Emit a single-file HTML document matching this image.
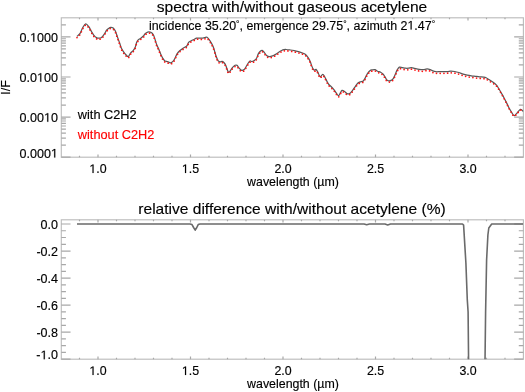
<!DOCTYPE html><html><head><meta charset="utf-8"><style>html,body{margin:0;padding:0;background:#fff;width:525px;height:392px;overflow:hidden}svg{display:block}text{font-family:"Liberation Sans",sans-serif;fill:#000}.tx text{stroke:#000;stroke-width:0.15px}.h1{fill-opacity:0;stroke-opacity:0}</style></head><body>
<svg width="525" height="392" viewBox="0 0 525 392">
<rect x="61.3" y="17.8" width="462.09999999999997" height="139.39999999999998" fill="none" stroke="#bdbdbd" stroke-width="1.15"/>
<path d="M79.50 157.2v-1.39M79.50 17.8v1.39M98.00 157.2v-2.79M98.00 17.8v2.79M116.50 157.2v-1.39M116.50 17.8v1.39M135.00 157.2v-1.39M135.00 17.8v1.39M153.50 157.2v-1.39M153.50 17.8v1.39M172.00 157.2v-1.39M172.00 17.8v1.39M190.50 157.2v-2.79M190.50 17.8v2.79M209.00 157.2v-1.39M209.00 17.8v1.39M227.50 157.2v-1.39M227.50 17.8v1.39M246.00 157.2v-1.39M246.00 17.8v1.39M264.50 157.2v-1.39M264.50 17.8v1.39M283.00 157.2v-2.79M283.00 17.8v2.79M301.50 157.2v-1.39M301.50 17.8v1.39M320.00 157.2v-1.39M320.00 17.8v1.39M338.50 157.2v-1.39M338.50 17.8v1.39M357.00 157.2v-1.39M357.00 17.8v1.39M375.50 157.2v-2.79M375.50 17.8v2.79M394.00 157.2v-1.39M394.00 17.8v1.39M412.50 157.2v-1.39M412.50 17.8v1.39M431.00 157.2v-1.39M431.00 17.8v1.39M449.50 157.2v-1.39M449.50 17.8v1.39M468.00 157.2v-2.79M468.00 17.8v2.79M486.50 157.2v-1.39M486.50 17.8v1.39M505.00 157.2v-1.39M505.00 17.8v1.39" stroke="#a8a8a8" stroke-width="1.2" fill="none"/>
<path d="M61.3 157.20h9.24M523.4 157.20h-9.24M61.3 117.10h9.24M523.4 117.10h-9.24M61.3 77.00h9.24M523.4 77.00h-9.24M61.3 36.90h9.24M523.4 36.90h-9.24M61.3 145.13h4.62M523.4 145.13h-4.62M61.3 138.07h4.62M523.4 138.07h-4.62M61.3 133.06h4.62M523.4 133.06h-4.62M61.3 129.17h4.62M523.4 129.17h-4.62M61.3 126.00h4.62M523.4 126.00h-4.62M61.3 123.31h4.62M523.4 123.31h-4.62M61.3 120.99h4.62M523.4 120.99h-4.62M61.3 118.93h4.62M523.4 118.93h-4.62M61.3 105.03h4.62M523.4 105.03h-4.62M61.3 97.97h4.62M523.4 97.97h-4.62M61.3 92.96h4.62M523.4 92.96h-4.62M61.3 89.07h4.62M523.4 89.07h-4.62M61.3 85.90h4.62M523.4 85.90h-4.62M61.3 83.21h4.62M523.4 83.21h-4.62M61.3 80.89h4.62M523.4 80.89h-4.62M61.3 78.83h4.62M523.4 78.83h-4.62M61.3 64.93h4.62M523.4 64.93h-4.62M61.3 57.87h4.62M523.4 57.87h-4.62M61.3 52.86h4.62M523.4 52.86h-4.62M61.3 48.97h4.62M523.4 48.97h-4.62M61.3 45.80h4.62M523.4 45.80h-4.62M61.3 43.11h4.62M523.4 43.11h-4.62M61.3 40.79h4.62M523.4 40.79h-4.62M61.3 38.73h4.62M523.4 38.73h-4.62M61.3 24.83h4.62M523.4 24.83h-4.62" stroke="#a8a8a8" stroke-width="1.2" fill="none"/>
<rect x="61.3" y="219.8" width="462.09999999999997" height="139.39999999999998" fill="none" stroke="#bdbdbd" stroke-width="1.15"/>
<path d="M79.50 359.2v-1.39M79.50 219.8v1.39M98.00 359.2v-2.79M98.00 219.8v2.79M116.50 359.2v-1.39M116.50 219.8v1.39M135.00 359.2v-1.39M135.00 219.8v1.39M153.50 359.2v-1.39M153.50 219.8v1.39M172.00 359.2v-1.39M172.00 219.8v1.39M190.50 359.2v-2.79M190.50 219.8v2.79M209.00 359.2v-1.39M209.00 219.8v1.39M227.50 359.2v-1.39M227.50 219.8v1.39M246.00 359.2v-1.39M246.00 219.8v1.39M264.50 359.2v-1.39M264.50 219.8v1.39M283.00 359.2v-2.79M283.00 219.8v2.79M301.50 359.2v-1.39M301.50 219.8v1.39M320.00 359.2v-1.39M320.00 219.8v1.39M338.50 359.2v-1.39M338.50 219.8v1.39M357.00 359.2v-1.39M357.00 219.8v1.39M375.50 359.2v-2.79M375.50 219.8v2.79M394.00 359.2v-1.39M394.00 219.8v1.39M412.50 359.2v-1.39M412.50 219.8v1.39M431.00 359.2v-1.39M431.00 219.8v1.39M449.50 359.2v-1.39M449.50 219.8v1.39M468.00 359.2v-2.79M468.00 219.8v2.79M486.50 359.2v-1.39M486.50 219.8v1.39M505.00 359.2v-1.39M505.00 219.8v1.39" stroke="#a8a8a8" stroke-width="1.2" fill="none"/>
<path d="M61.3 224.00h9.24M523.4 224.00h-9.24M61.3 251.04h9.24M523.4 251.04h-9.24M61.3 278.08h9.24M523.4 278.08h-9.24M61.3 305.12h9.24M523.4 305.12h-9.24M61.3 332.16h9.24M523.4 332.16h-9.24M61.3 359.20h9.24M523.4 359.20h-9.24M61.3 230.76h4.62M523.4 230.76h-4.62M61.3 237.52h4.62M523.4 237.52h-4.62M61.3 244.28h4.62M523.4 244.28h-4.62M61.3 257.80h4.62M523.4 257.80h-4.62M61.3 264.56h4.62M523.4 264.56h-4.62M61.3 271.32h4.62M523.4 271.32h-4.62M61.3 284.84h4.62M523.4 284.84h-4.62M61.3 291.60h4.62M523.4 291.60h-4.62M61.3 298.36h4.62M523.4 298.36h-4.62M61.3 311.88h4.62M523.4 311.88h-4.62M61.3 318.64h4.62M523.4 318.64h-4.62M61.3 325.40h4.62M523.4 325.40h-4.62M61.3 338.92h4.62M523.4 338.92h-4.62M61.3 345.68h4.62M523.4 345.68h-4.62M61.3 352.44h4.62M523.4 352.44h-4.62" stroke="#a8a8a8" stroke-width="1.2" fill="none"/>
<defs><clipPath id="c1"><rect x="61.3" y="17.8" width="462.09999999999997" height="139.39999999999998"/></clipPath><clipPath id="c2"><rect x="61.3" y="219.8" width="462.09999999999997" height="139.39999999999998"/></clipPath></defs>
<g clip-path="url(#c1)"><path d="M77.00 36.40C77.52 35.88 79.15 34.75 80.10 33.30C81.05 31.85 81.77 29.27 82.70 27.70C83.63 26.13 84.68 24.07 85.70 23.90C86.72 23.73 87.87 25.47 88.80 26.70C89.73 27.93 90.45 29.87 91.30 31.30C92.15 32.73 92.97 34.20 93.90 35.30C94.83 36.40 96.05 37.42 96.90 37.90C97.75 38.38 98.23 38.28 99.00 38.20C99.77 38.12 100.65 38.05 101.50 37.40C102.35 36.75 103.25 35.50 104.10 34.30C104.95 33.10 105.87 31.17 106.60 30.20C107.33 29.23 107.83 28.98 108.50 28.50C109.17 28.02 109.82 27.38 110.60 27.30C111.38 27.22 112.43 27.43 113.20 28.00C113.97 28.57 114.62 29.57 115.20 30.70C115.78 31.83 116.18 33.35 116.70 34.80C117.22 36.25 117.78 37.95 118.30 39.40C118.82 40.85 119.30 42.05 119.80 43.50C120.30 44.95 120.70 46.75 121.30 48.10C121.90 49.45 122.63 50.50 123.40 51.60C124.17 52.70 125.08 53.85 125.90 54.70C126.72 55.55 127.53 56.95 128.30 56.70C129.07 56.45 129.70 54.22 130.50 53.20C131.30 52.18 132.33 51.53 133.10 50.60C133.87 49.67 134.52 48.97 135.10 47.60C135.68 46.23 136.08 43.68 136.60 42.40C137.12 41.12 137.55 40.57 138.20 39.90C138.85 39.23 139.63 39.05 140.50 38.40C141.37 37.75 142.63 36.78 143.40 36.00C144.17 35.22 144.38 34.35 145.10 33.70C145.82 33.05 146.85 32.37 147.70 32.10C148.55 31.83 149.45 31.92 150.20 32.10C150.95 32.28 151.60 32.60 152.20 33.20C152.80 33.80 153.28 34.52 153.80 35.70C154.32 36.88 154.80 38.77 155.30 40.30C155.80 41.83 156.20 43.37 156.80 44.90C157.40 46.43 158.22 47.88 158.90 49.50C159.58 51.12 160.22 53.07 160.90 54.60C161.58 56.13 162.32 57.65 163.00 58.70C163.68 59.75 164.23 60.40 165.00 60.90C165.77 61.40 166.67 61.38 167.60 61.70C168.53 62.02 169.67 62.88 170.60 62.80C171.53 62.72 172.43 62.05 173.20 61.20C173.97 60.35 174.53 58.97 175.20 57.70C175.87 56.43 176.45 54.77 177.20 53.60C177.95 52.43 178.78 51.57 179.70 50.70C180.62 49.83 181.70 49.05 182.70 48.40C183.70 47.75 184.95 47.32 185.70 46.80C186.45 46.28 186.68 46.07 187.20 45.30C187.72 44.53 188.12 42.97 188.80 42.20C189.48 41.43 190.37 41.20 191.30 40.70C192.23 40.20 193.55 39.62 194.40 39.20C195.25 38.78 195.55 38.40 196.40 38.20C197.25 38.00 198.57 38.00 199.50 38.00C200.43 38.00 201.15 38.25 202.00 38.20C202.85 38.15 203.75 37.85 204.60 37.70C205.45 37.55 206.33 36.97 207.10 37.30C207.87 37.63 208.52 38.78 209.20 39.70C209.88 40.62 210.55 41.67 211.20 42.80C211.85 43.93 212.45 44.83 213.10 46.50C213.75 48.17 214.57 51.08 215.10 52.80C215.63 54.52 215.78 55.45 216.30 56.80C216.82 58.15 217.55 60.05 218.20 60.90C218.85 61.75 219.53 61.82 220.20 61.90C220.87 61.98 221.52 61.22 222.20 61.40C222.88 61.58 223.70 62.32 224.30 63.00C224.90 63.68 225.33 64.48 225.80 65.50C226.27 66.52 226.63 67.95 227.10 69.10C227.57 70.25 228.05 72.15 228.60 72.40C229.15 72.65 229.77 71.40 230.40 70.60C231.03 69.80 231.63 68.48 232.40 67.60C233.17 66.72 234.23 65.68 235.00 65.30C235.77 64.92 236.32 64.83 237.00 65.30C237.68 65.77 238.33 67.25 239.10 68.10C239.87 68.95 240.75 70.15 241.60 70.40C242.45 70.65 243.43 70.25 244.20 69.60C244.97 68.95 245.52 67.60 246.20 66.50C246.88 65.40 247.67 63.92 248.30 63.00C248.93 62.08 249.37 61.25 250.00 61.00C250.63 60.75 251.32 61.62 252.10 61.50C252.88 61.38 253.93 60.88 254.70 60.30C255.47 59.72 256.10 59.07 256.70 58.00C257.30 56.93 257.70 55.02 258.30 53.90C258.90 52.78 259.67 51.90 260.30 51.30C260.93 50.70 261.42 50.08 262.10 50.30C262.78 50.52 263.65 51.75 264.40 52.60C265.15 53.45 265.75 54.73 266.60 55.40C267.45 56.07 268.50 56.52 269.50 56.60C270.50 56.68 271.58 56.27 272.60 55.90C273.62 55.53 274.58 55.00 275.60 54.40C276.62 53.80 277.68 52.95 278.70 52.30C279.72 51.65 280.82 50.93 281.70 50.50C282.58 50.07 283.27 49.87 284.00 49.70C284.73 49.53 285.07 49.45 286.10 49.50C287.13 49.55 288.83 49.80 290.20 50.00C291.57 50.20 292.93 50.42 294.30 50.70C295.67 50.98 297.13 51.35 298.40 51.70C299.67 52.05 300.88 52.45 301.90 52.80C302.92 53.15 303.73 53.35 304.50 53.80C305.27 54.25 305.82 54.73 306.50 55.50C307.18 56.27 307.95 57.33 308.60 58.40C309.25 59.47 309.90 60.72 310.40 61.90C310.90 63.08 311.13 64.30 311.60 65.50C312.07 66.70 312.68 68.33 313.20 69.10C313.72 69.87 314.23 70.05 314.70 70.10C315.17 70.15 315.48 69.08 316.00 69.40C316.52 69.72 317.12 70.77 317.80 72.00C318.48 73.23 319.28 76.42 320.10 76.80C320.92 77.18 321.93 74.30 322.70 74.30C323.47 74.30 324.03 75.70 324.70 76.80C325.37 77.90 326.02 79.62 326.70 80.90C327.38 82.18 328.03 83.53 328.80 84.50C329.57 85.47 330.45 85.85 331.30 86.70C332.15 87.55 333.05 88.52 333.90 89.60C334.75 90.68 335.63 92.18 336.40 93.20C337.17 94.22 337.82 95.78 338.50 95.70C339.18 95.62 339.92 93.58 340.50 92.70C341.08 91.82 341.32 90.62 342.00 90.40C342.68 90.18 343.75 90.85 344.60 91.40C345.45 91.95 346.25 93.35 347.10 93.70C347.95 94.05 348.82 94.02 349.70 93.50C350.58 92.98 351.50 91.72 352.40 90.60C353.30 89.48 354.22 88.02 355.10 86.80C355.98 85.58 356.85 84.12 357.70 83.30C358.55 82.48 359.27 82.30 360.20 81.90C361.13 81.50 362.45 81.57 363.30 80.90C364.15 80.23 364.63 79.08 365.30 77.90C365.97 76.72 366.53 75.00 367.30 73.80C368.07 72.60 369.05 71.35 369.90 70.70C370.75 70.05 371.55 70.07 372.40 69.90C373.25 69.73 374.13 69.48 375.00 69.70C375.87 69.92 376.67 70.78 377.60 71.20C378.53 71.62 379.67 71.68 380.60 72.20C381.53 72.72 382.43 73.47 383.20 74.30C383.97 75.13 384.63 76.32 385.20 77.20C385.77 78.08 386.02 79.00 386.60 79.60C387.18 80.20 387.95 80.67 388.70 80.80C389.45 80.93 390.35 80.77 391.10 80.40C391.85 80.03 392.52 79.58 393.20 78.60C393.88 77.62 394.53 75.95 395.20 74.50C395.87 73.05 396.52 71.13 397.20 69.90C397.88 68.67 398.45 67.48 399.30 67.10C400.15 66.72 401.28 67.42 402.30 67.60C403.32 67.78 404.37 68.10 405.40 68.20C406.43 68.30 407.48 68.30 408.50 68.20C409.52 68.10 410.48 67.57 411.50 67.60C412.52 67.63 413.57 68.13 414.60 68.40C415.63 68.67 416.63 69.00 417.70 69.20C418.77 69.40 420.02 69.53 421.00 69.60C421.98 69.67 422.58 69.72 423.60 69.60C424.62 69.48 426.00 68.90 427.10 68.90C428.20 68.90 429.25 69.27 430.20 69.60C431.15 69.93 431.87 70.55 432.80 70.90C433.73 71.25 434.70 71.57 435.80 71.70C436.90 71.83 438.12 71.70 439.40 71.70C440.68 71.70 442.13 71.72 443.50 71.70C444.87 71.68 446.42 71.68 447.60 71.60C448.78 71.52 449.42 71.22 450.60 71.20C451.78 71.18 453.33 71.28 454.70 71.50C456.07 71.72 457.38 72.07 458.80 72.50C460.22 72.93 461.80 73.67 463.20 74.10C464.60 74.53 465.85 74.82 467.20 75.10C468.55 75.38 469.93 75.60 471.30 75.80C472.67 76.00 474.03 76.13 475.40 76.30C476.77 76.47 478.13 76.67 479.50 76.80C480.87 76.93 482.50 76.95 483.60 77.10C484.70 77.25 485.23 77.30 486.10 77.70C486.97 78.10 487.70 78.78 488.80 79.50C489.90 80.22 491.42 81.05 492.70 82.00C493.98 82.95 495.45 84.03 496.50 85.20C497.55 86.37 498.15 87.62 499.00 89.00C499.85 90.38 500.75 92.00 501.60 93.50C502.45 95.00 503.25 96.40 504.10 98.00C504.95 99.60 505.85 101.40 506.70 103.10C507.55 104.80 508.35 106.62 509.20 108.20C510.05 109.78 510.98 111.37 511.80 112.60C512.62 113.83 513.25 115.48 514.10 115.60C514.95 115.72 515.83 114.33 516.90 113.30C517.97 112.27 519.43 109.72 520.50 109.40C521.57 109.08 522.83 111.07 523.30 111.40" fill="none" stroke="#585858" stroke-width="1.25" stroke-linejoin="round"/>
<path d="M77.00 37.60C77.52 37.08 79.15 35.95 80.10 34.50C81.05 33.05 81.77 30.47 82.70 28.90C83.63 27.33 84.68 25.27 85.70 25.10C86.72 24.93 87.87 26.67 88.80 27.90C89.73 29.13 90.45 31.07 91.30 32.50C92.15 33.93 92.97 35.40 93.90 36.50C94.83 37.60 96.05 38.62 96.90 39.10C97.75 39.58 98.23 39.48 99.00 39.40C99.77 39.32 100.65 39.25 101.50 38.60C102.35 37.95 103.25 36.70 104.10 35.50C104.95 34.30 105.87 32.37 106.60 31.40C107.33 30.43 107.83 30.18 108.50 29.70C109.17 29.22 109.82 28.58 110.60 28.50C111.38 28.42 112.43 28.63 113.20 29.20C113.97 29.77 114.62 30.77 115.20 31.90C115.78 33.03 116.18 34.55 116.70 36.00C117.22 37.45 117.78 39.15 118.30 40.60C118.82 42.05 119.30 43.25 119.80 44.70C120.30 46.15 120.70 47.95 121.30 49.30C121.90 50.65 122.63 51.70 123.40 52.80C124.17 53.90 125.08 55.05 125.90 55.90C126.72 56.75 127.53 58.15 128.30 57.90C129.07 57.65 129.70 55.42 130.50 54.40C131.30 53.38 132.33 52.73 133.10 51.80C133.87 50.87 134.52 50.17 135.10 48.80C135.68 47.43 136.08 44.88 136.60 43.60C137.12 42.32 137.55 41.77 138.20 41.10C138.85 40.43 139.63 40.25 140.50 39.60C141.37 38.95 142.63 37.98 143.40 37.20C144.17 36.42 144.38 35.55 145.10 34.90C145.82 34.25 146.85 33.57 147.70 33.30C148.55 33.03 149.45 33.12 150.20 33.30C150.95 33.48 151.60 33.80 152.20 34.40C152.80 35.00 153.28 35.72 153.80 36.90C154.32 38.08 154.80 39.97 155.30 41.50C155.80 43.03 156.20 44.57 156.80 46.10C157.40 47.63 158.22 49.08 158.90 50.70C159.58 52.32 160.22 54.27 160.90 55.80C161.58 57.33 162.32 58.85 163.00 59.90C163.68 60.95 164.23 61.60 165.00 62.10C165.77 62.60 166.67 62.58 167.60 62.90C168.53 63.22 169.67 64.08 170.60 64.00C171.53 63.92 172.43 63.25 173.20 62.40C173.97 61.55 174.53 60.17 175.20 58.90C175.87 57.63 176.45 55.97 177.20 54.80C177.95 53.63 178.78 52.77 179.70 51.90C180.62 51.03 181.70 50.25 182.70 49.60C183.70 48.95 184.95 48.52 185.70 48.00C186.45 47.48 186.68 47.27 187.20 46.50C187.72 45.73 188.12 44.17 188.80 43.40C189.48 42.63 190.37 42.40 191.30 41.90C192.23 41.40 193.55 40.82 194.40 40.40C195.25 39.98 195.55 39.60 196.40 39.40C197.25 39.20 198.57 39.20 199.50 39.20C200.43 39.20 201.15 39.45 202.00 39.40C202.85 39.35 203.75 39.05 204.60 38.90C205.45 38.75 206.33 38.17 207.10 38.50C207.87 38.83 208.52 39.98 209.20 40.90C209.88 41.82 210.55 42.87 211.20 44.00C211.85 45.13 212.45 46.03 213.10 47.70C213.75 49.37 214.57 52.28 215.10 54.00C215.63 55.72 215.78 56.65 216.30 58.00C216.82 59.35 217.55 61.25 218.20 62.10C218.85 62.95 219.53 63.02 220.20 63.10C220.87 63.18 221.52 62.42 222.20 62.60C222.88 62.78 223.70 63.52 224.30 64.20C224.90 64.88 225.33 65.68 225.80 66.70C226.27 67.72 226.63 69.15 227.10 70.30C227.57 71.45 228.05 73.35 228.60 73.60C229.15 73.85 229.77 72.60 230.40 71.80C231.03 71.00 231.63 69.68 232.40 68.80C233.17 67.92 234.23 66.88 235.00 66.50C235.77 66.12 236.32 66.03 237.00 66.50C237.68 66.97 238.33 68.45 239.10 69.30C239.87 70.15 240.75 71.35 241.60 71.60C242.45 71.85 243.43 71.45 244.20 70.80C244.97 70.15 245.52 68.80 246.20 67.70C246.88 66.60 247.67 65.12 248.30 64.20C248.93 63.28 249.37 62.45 250.00 62.20C250.63 61.95 251.32 62.82 252.10 62.70C252.88 62.58 253.93 62.08 254.70 61.50C255.47 60.92 256.10 60.27 256.70 59.20C257.30 58.13 257.70 56.22 258.30 55.10C258.90 53.98 259.67 53.10 260.30 52.50C260.93 51.90 261.42 51.28 262.10 51.50C262.78 51.72 263.65 52.95 264.40 53.80C265.15 54.65 265.75 55.93 266.60 56.60C267.45 57.27 268.50 57.72 269.50 57.80C270.50 57.88 271.58 57.47 272.60 57.10C273.62 56.73 274.58 56.20 275.60 55.60C276.62 55.00 277.68 54.15 278.70 53.50C279.72 52.85 280.82 52.13 281.70 51.70C282.58 51.27 283.27 51.07 284.00 50.90C284.73 50.73 285.07 50.65 286.10 50.70C287.13 50.75 288.83 51.00 290.20 51.20C291.57 51.40 292.93 51.62 294.30 51.90C295.67 52.18 297.13 52.55 298.40 52.90C299.67 53.25 300.88 53.65 301.90 54.00C302.92 54.35 303.73 54.55 304.50 55.00C305.27 55.45 305.82 55.93 306.50 56.70C307.18 57.47 307.95 58.53 308.60 59.60C309.25 60.67 309.90 61.92 310.40 63.10C310.90 64.28 311.13 65.50 311.60 66.70C312.07 67.90 312.68 69.53 313.20 70.30C313.72 71.07 314.23 71.25 314.70 71.30C315.17 71.35 315.48 70.28 316.00 70.60C316.52 70.92 317.12 71.97 317.80 73.20C318.48 74.43 319.28 77.62 320.10 78.00C320.92 78.38 321.93 75.50 322.70 75.50C323.47 75.50 324.03 76.90 324.70 78.00C325.37 79.10 326.02 80.82 326.70 82.10C327.38 83.38 328.03 84.73 328.80 85.70C329.57 86.67 330.45 87.05 331.30 87.90C332.15 88.75 333.05 89.72 333.90 90.80C334.75 91.88 335.63 93.38 336.40 94.40C337.17 95.42 337.82 96.98 338.50 96.90C339.18 96.82 339.92 94.78 340.50 93.90C341.08 93.02 341.32 91.82 342.00 91.60C342.68 91.38 343.75 92.05 344.60 92.60C345.45 93.15 346.25 94.55 347.10 94.90C347.95 95.25 348.82 95.22 349.70 94.70C350.58 94.18 351.50 92.92 352.40 91.80C353.30 90.68 354.22 89.22 355.10 88.00C355.98 86.78 356.85 85.32 357.70 84.50C358.55 83.68 359.27 83.50 360.20 83.10C361.13 82.70 362.45 82.77 363.30 82.10C364.15 81.43 364.63 80.28 365.30 79.10C365.97 77.92 366.53 76.20 367.30 75.00C368.07 73.80 369.05 72.55 369.90 71.90C370.75 71.25 371.55 71.27 372.40 71.10C373.25 70.93 374.13 70.68 375.00 70.90C375.87 71.12 376.67 71.98 377.60 72.40C378.53 72.82 379.67 72.88 380.60 73.40C381.53 73.92 382.43 74.67 383.20 75.50C383.97 76.33 384.63 77.52 385.20 78.40C385.77 79.28 386.02 80.20 386.60 80.80C387.18 81.40 387.95 81.87 388.70 82.00C389.45 82.13 390.35 81.96 391.10 81.60C391.85 81.24 392.52 80.82 393.20 79.86C393.88 78.90 394.53 77.28 395.20 75.86C395.87 74.44 396.52 72.56 397.20 71.36C397.88 70.16 398.45 69.02 399.30 68.66C400.15 68.30 401.28 69.01 402.30 69.20C403.32 69.39 404.37 69.70 405.40 69.80C406.43 69.90 407.48 69.90 408.50 69.80C409.52 69.70 410.48 69.17 411.50 69.20C412.52 69.23 413.57 69.73 414.60 70.00C415.63 70.27 416.63 70.60 417.70 70.80C418.77 71.00 420.02 71.13 421.00 71.20C421.98 71.27 422.58 71.32 423.60 71.20C424.62 71.08 426.00 70.50 427.10 70.50C428.20 70.50 429.25 70.87 430.20 71.20C431.15 71.53 431.87 72.15 432.80 72.50C433.73 72.85 434.70 73.17 435.80 73.30C436.90 73.43 438.12 73.30 439.40 73.30C440.68 73.30 442.13 73.32 443.50 73.30C444.87 73.28 446.42 73.28 447.60 73.20C448.78 73.12 449.42 72.82 450.60 72.80C451.78 72.78 453.33 72.88 454.70 73.10C456.07 73.32 457.38 73.67 458.80 74.10C460.22 74.53 461.80 75.27 463.20 75.70C464.60 76.13 465.85 76.42 467.20 76.70C468.55 76.98 469.93 77.20 471.30 77.40C472.67 77.60 474.03 77.73 475.40 77.90C476.77 78.07 478.13 78.27 479.50 78.40C480.87 78.53 482.50 78.57 483.60 78.70C484.70 78.83 485.23 78.83 486.10 79.18C486.97 79.54 487.70 80.18 488.80 80.83C489.90 81.48 491.42 82.23 492.70 83.11C493.98 83.99 495.45 84.99 496.50 86.10C497.55 87.20 498.15 88.41 499.00 89.76C499.85 91.11 500.75 92.71 501.60 94.20C502.45 95.69 503.25 97.10 504.10 98.70C504.95 100.30 505.85 102.10 506.70 103.80C507.55 105.50 508.35 107.32 509.20 108.90C510.05 110.48 510.98 112.07 511.80 113.30C512.62 114.53 513.25 116.18 514.10 116.30C514.95 116.42 515.83 115.03 516.90 114.00C517.97 112.97 519.43 110.42 520.50 110.10C521.57 109.78 522.83 111.77 523.30 112.10" fill="none" stroke="#ff1515" stroke-width="1.75" stroke-linecap="round" stroke-dasharray="0 3.7"/></g>
<g clip-path="url(#c2)"><path d="M77.00 224.00 L190.00 224.00 L192.00 224.60 L193.60 227.50 L195.20 230.20 L196.80 227.50 L198.20 224.60 L200.00 224.00 L364.00 224.00 L366.70 224.70 L369.50 224.00 L385.00 224.00 L387.70 224.90 L390.50 224.00 L462.50 224.00 L463.60 225.10 L465.90 263.00 L467.30 300.00 L468.10 312.00 L468.60 362.00 L485.00 362.00 L485.60 312.00 L486.60 260.00 L487.90 235.00 L488.80 228.00 L491.70 224.00 L523.00 224.00" fill="none" stroke="#6a6a6a" stroke-width="1.6" stroke-linejoin="round"/></g>
<g style="will-change:transform" class="tx">
<text x="292" y="12" font-size="15.55" text-anchor="middle">spectra with/without gaseous acetylene</text>
<text x="292" y="29.6" font-size="12.45" text-anchor="middle">incidence 35.20<tspan font-size="8.5" dy="-2.3">°</tspan><tspan dy="2.3">, emergence 29.75</tspan><tspan font-size="8.5" dy="-2.3">°</tspan><tspan dy="2.3">, azimuth 2<tspan class="h1">1</tspan>.47</tspan><tspan font-size="8.5" dy="-2.3">°</tspan></text>
<text x="58.0" y="41.8" font-size="12.55" text-anchor="end">0.<tspan class="h1">1</tspan>000</text>
<text x="58.0" y="81.8" font-size="12.55" text-anchor="end">0.0<tspan class="h1">1</tspan>00</text>
<text x="58.0" y="121.8" font-size="12.55" text-anchor="end">0.00<tspan class="h1">1</tspan>0</text>
<text x="58.0" y="157.6" font-size="12.55" text-anchor="end">0.000<tspan class="h1">1</tspan></text>
<text x="98.0" y="173" font-size="12.4" text-anchor="middle"><tspan class="h1">1</tspan>.0</text>
<text x="98.0" y="375" font-size="12.4" text-anchor="middle"><tspan class="h1">1</tspan>.0</text>
<text x="190.5" y="173" font-size="12.4" text-anchor="middle"><tspan class="h1">1</tspan>.5</text>
<text x="190.5" y="375" font-size="12.4" text-anchor="middle"><tspan class="h1">1</tspan>.5</text>
<text x="283.0" y="173" font-size="12.4" text-anchor="middle">2.0</text>
<text x="283.0" y="375" font-size="12.4" text-anchor="middle">2.0</text>
<text x="375.5" y="173" font-size="12.4" text-anchor="middle">2.5</text>
<text x="375.5" y="375" font-size="12.4" text-anchor="middle">2.5</text>
<text x="468.0" y="173" font-size="12.4" text-anchor="middle">3.0</text>
<text x="468.0" y="375" font-size="12.4" text-anchor="middle">3.0</text>
<text x="293" y="186.3" font-size="12.4" text-anchor="middle">wavelength (µm)</text>
<text x="293" y="388" font-size="12.4" text-anchor="middle">wavelength (µm)</text>
<text x="77.8" y="118.7" font-size="12.75" text-anchor="start">with C2H2</text>
<text x="77.8" y="138.7" font-size="12.75" text-anchor="start" style="fill:#ff0000;stroke:#ff0000">without C2H2</text>
<text transform="translate(9.9,87.5) rotate(-90)" font-size="12.4" text-anchor="middle">I/F</text>
<text x="292" y="213.7" font-size="15.55" text-anchor="middle">relative difference with/without acetylene (%)</text>
<text x="58.0" y="228.6" font-size="12.55" text-anchor="end">0.0</text>
<text x="58.0" y="255.64" font-size="12.55" text-anchor="end">-0.2</text>
<text x="58.0" y="282.68" font-size="12.55" text-anchor="end">-0.4</text>
<text x="58.0" y="309.72" font-size="12.55" text-anchor="end">-0.6</text>
<text x="58.0" y="336.76" font-size="12.55" text-anchor="end">-0.8</text>
<text x="58.0" y="359.3" font-size="12.55" text-anchor="end">-<tspan class="h1">1</tspan>.0</text>
</g><g style="will-change:transform"><path d="M410.58 29.60 L410.58 22.08 L408.64 23.46 L408.64 22.43 L410.67 21.03 L411.68 21.03 L411.68 29.60Z" fill="rgb(0, 0, 0)" stroke="rgb(0, 0, 0)" stroke-width="0.15"/><path d="M33.23 41.80 L33.23 34.22 L31.29 35.61 L31.29 34.57 L33.33 33.17 L34.34 33.17 L34.34 41.80Z" fill="rgb(0, 0, 0)" stroke="rgb(0, 0, 0)" stroke-width="0.15"/><path d="M40.20 81.80 L40.20 74.22 L38.25 75.61 L38.25 74.57 L40.29 73.17 L41.31 73.17 L41.31 81.80Z" fill="rgb(0, 0, 0)" stroke="rgb(0, 0, 0)" stroke-width="0.15"/><path d="M47.19 121.80 L47.19 114.22 L45.24 115.61 L45.24 114.57 L47.28 113.17 L48.30 113.17 L48.30 121.80Z" fill="rgb(0, 0, 0)" stroke="rgb(0, 0, 0)" stroke-width="0.15"/><path d="M54.17 157.60 L54.17 150.02 L52.22 151.41 L52.22 150.37 L54.26 148.97 L55.28 148.97 L55.28 157.60Z" fill="rgb(0, 0, 0)" stroke="rgb(0, 0, 0)" stroke-width="0.15"/><path d="M92.49 173.00 L92.49 165.51 L90.57 166.88 L90.57 165.86 L92.58 164.47 L93.59 164.47 L93.59 173.00Z" fill="rgb(0, 0, 0)" stroke="rgb(0, 0, 0)" stroke-width="0.15"/><path d="M92.49 375.00 L92.49 367.51 L90.57 368.88 L90.57 367.86 L92.58 366.47 L93.59 366.47 L93.59 375.00Z" fill="rgb(0, 0, 0)" stroke="rgb(0, 0, 0)" stroke-width="0.15"/><path d="M184.99 173.00 L184.99 165.51 L183.07 166.88 L183.07 165.86 L185.08 164.47 L186.09 164.47 L186.09 173.00Z" fill="rgb(0, 0, 0)" stroke="rgb(0, 0, 0)" stroke-width="0.15"/><path d="M184.99 375.00 L184.99 367.51 L183.07 368.88 L183.07 367.86 L185.08 366.47 L186.09 366.47 L186.09 375.00Z" fill="rgb(0, 0, 0)" stroke="rgb(0, 0, 0)" stroke-width="0.15"/><path d="M43.70 359.30 L43.70 351.72 L41.75 353.11 L41.75 352.07 L43.79 350.67 L44.81 350.67 L44.81 359.30Z" fill="rgb(0, 0, 0)" stroke="rgb(0, 0, 0)" stroke-width="0.15"/></g></svg></body></html>
